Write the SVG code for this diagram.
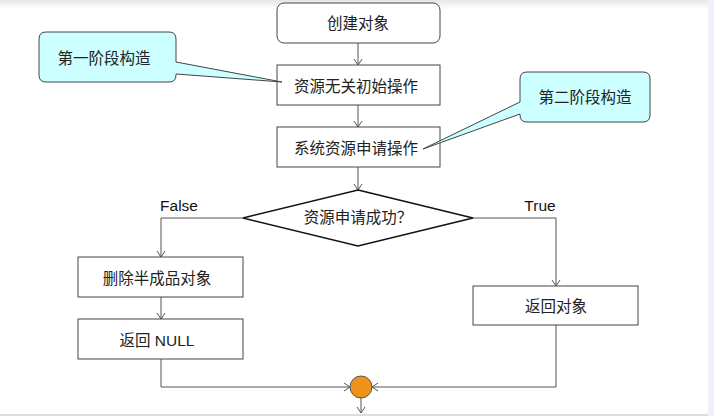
<svg xmlns="http://www.w3.org/2000/svg" width="714" height="416" viewBox="0 0 714 416">
<defs>
<linearGradient id="topfade" x1="0" y1="0" x2="0" y2="1">
<stop offset="0" stop-color="#e4e6ea"/>
<stop offset="1" stop-color="#ffffff"/>
</linearGradient>
<marker id="arr" markerWidth="10" markerHeight="10" refX="8" refY="5" orient="auto" markerUnits="userSpaceOnUse">
<path d="M2,1 L8,5 L2,9" fill="none" stroke="#555" stroke-width="1"/>
</marker>
</defs>
<style>
.box{fill:#fff;stroke:#444;stroke-width:1}
.call{fill:#ccffff;stroke:#444;stroke-width:1}
.t{font-family:"Liberation Sans","Noto Sans CJK SC",sans-serif;font-size:15.5px;fill:#222;text-anchor:middle;dominant-baseline:central}
.lbl{font-family:"Liberation Sans","Noto Sans CJK SC",sans-serif;font-size:15.5px;fill:#111;text-anchor:middle;dominant-baseline:central}
.ln{fill:none;stroke:#555;stroke-width:1}
</style>
<rect x="0" y="0" width="714" height="416" fill="#fff"/>
<rect x="0" y="0" width="714" height="9" fill="url(#topfade)"/>
<rect x="708" y="0" width="6" height="416" fill="#eef1f8"/>
<rect x="0" y="414" width="708" height="2" fill="#dcdcdc"/>

<g id="connectors">
<line class="ln" x1="358" y1="43" x2="358" y2="65" marker-end="url(#arr)"/>
<line class="ln" x1="358" y1="105" x2="358" y2="127" marker-end="url(#arr)"/>
<line class="ln" x1="358" y1="167" x2="358" y2="190" marker-end="url(#arr)"/>
<polyline class="ln" points="243,218 161,218 161,257" marker-end="url(#arr)"/>
<line class="ln" x1="161" y1="297" x2="161" y2="319" marker-end="url(#arr)"/>
<polyline class="ln" points="161,359 161,387 350,387" marker-end="url(#arr)"/>
<polyline class="ln" points="473,218 556,218 556,286" marker-end="url(#arr)"/>
<polyline class="ln" points="556,325 556,387 372,387" marker-end="url(#arr)"/>
<line class="ln" x1="361" y1="398" x2="361" y2="413" marker-end="url(#arr)"/>
</g>

<g id="n1"><rect class="box" x="277" y="3" width="163" height="40" rx="7"/><text class="t" x="358" y="23">创建对象</text></g>
<g id="n2"><rect class="box" x="277" y="65" width="163" height="40"/><text class="t" x="356" y="86">资源无关初始操作</text></g>
<g id="n3"><rect class="box" x="277" y="127" width="163" height="40"/><text class="t" x="356" y="148">系统资源申请操作</text></g>
<g id="c1"><path class="call" d="M46,32 H169 Q176,32 176,39 V62 L282,82 L176,74 V75 Q176,82 169,82 H46 Q39,82 39,75 V39 Q39,32 46,32 Z"/><text class="t" x="104" y="58">第一阶段构造</text></g>
<g id="c2"><path class="call" d="M527,72 H643 Q650,72 650,79 V115 Q650,122 643,122 H527 Q520,122 520,115 V114 L423,149 L520,102 V79 Q520,72 527,72 Z"/><text class="t" x="585" y="97">第二阶段构造</text></g>
<g id="d1"><polygon points="358,190 473,218 358,246 243,218" fill="#fff" stroke="#111" stroke-width="1.5"/><text class="t" x="358" y="217">资源申请成功？</text></g>
<g id="lf"><text class="lbl" x="179" y="205">False</text></g>
<g id="lt"><text class="lbl" x="540" y="205">True</text></g>
<g id="n4"><rect class="box" x="78" y="257" width="165" height="40"/><text class="t" x="157" y="278">删除半成品对象</text></g>
<g id="n5"><rect class="box" x="78" y="319" width="165" height="40"/><text class="t" x="157" y="340">返回 NULL</text></g>
<g id="n6"><rect class="box" x="473" y="286" width="165" height="39"/><text class="t" x="556" y="306">返回对象</text></g>
<g id="m1"><circle cx="361" cy="387" r="11" fill="#f0921a" stroke="#555" stroke-width="1"/></g>
</svg>
